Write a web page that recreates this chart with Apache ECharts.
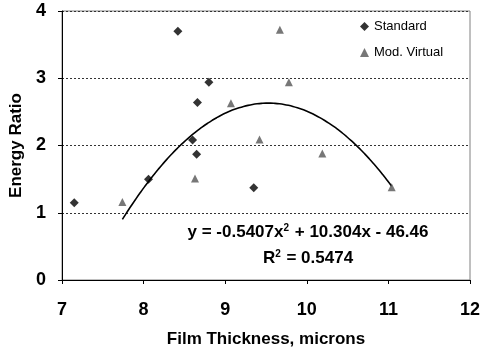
<!DOCTYPE html>
<html>
<head>
<meta charset="utf-8">
<script src="https://cdn.jsdelivr.net/npm/echarts@6/dist/echarts.min.js"></script>
<style>
  html, body { margin: 0; padding: 0; background: #fff; }
  #chart { width: 487px; height: 353px; }
</style>
</head>
<body>
<div id="chart"></div>
<script>
// Energy ratio vs. film thickness for two sample types
const standardX = [7.15, 8.06, 8.42, 8.80, 8.66, 8.60, 8.65, 9.35];
const standardY = [1.15, 1.50, 3.70, 2.94, 2.64, 2.08, 1.87, 1.37];

const modVirtualX = [7.74, 8.63, 9.07, 9.67, 9.78, 9.42, 10.19, 11.04];
const modVirtualY = [1.16, 1.51, 2.63, 3.72, 2.94, 2.09, 1.88, 1.38];

// Quadratic fit y = a x^2 + b x + c, as given in the annotation
const fitCoef = [-0.5407, 10.304, -46.46];
const fitR2 = 0.5474;

const xTicks = [7, 8, 9, 10, 11, 12];
const yTicks = [0, 1, 2, 3, 4];

function pairs(xs, ys) { return xs.map((x, i) => [x, ys[i]]); }

// trend curve spans the Mod. Virtual x range
const fitMin = Math.min(...modVirtualX), fitMax = Math.max(...modVirtualX);
const fitCurve = [];
for (let i = 0; i <= 60; i++) {
  const x = fitMin + (fitMax - fitMin) * i / 60;
  fitCurve.push([x, fitCoef[0] * x * x + fitCoef[1] * x + fitCoef[2]]);
}

const font = "'Liberation Sans', Arial, sans-serif";
const narrow = "'Liberation Sans Narrow', 'Arial Narrow', 'Liberation Sans', sans-serif";
const chart = echarts.init(document.getElementById('chart'));
chart.setOption({
  animation: false,
  backgroundColor: '#fff',
  grid: { left: 62, right: 17, top: 11, bottom: 70, show: true, borderColor: '#808080', borderWidth: 1 },
  xAxis: {
    type: 'value', min: xTicks[0], max: xTicks[xTicks.length - 1], interval: 1,
    name: 'Film Thickness, microns', nameLocation: 'middle', nameGap: 51,
    nameTextStyle: { fontFamily: font, fontWeight: 'bold', fontSize: 17, color: '#000' },
    axisLine: { lineStyle: { color: '#000', width: 1 } },
    axisTick: { show: true, length: 4, lineStyle: { color: '#000' } },
    axisLabel: { fontFamily: narrow, fontWeight: 'bold', fontSize: 18, color: '#000', margin: 21 },
    splitLine: { show: false }
  },
  yAxis: {
    type: 'value', min: yTicks[0], max: yTicks[yTicks.length - 1], interval: 1,
    name: 'Energy Ratio', nameLocation: 'middle', nameGap: 34,
    nameTextStyle: { fontFamily: font, fontWeight: 'bold', fontSize: 17, color: '#000' },
    axisLine: { show: true, lineStyle: { color: '#000', width: 1 } },
    axisTick: { show: true, length: 4, lineStyle: { color: '#000' } },
    axisLabel: { fontFamily: narrow, fontWeight: 'bold', fontSize: 18, color: '#000', margin: 16 },
    splitLine: { show: true, lineStyle: { color: '#333', type: [2, 2], width: 1 } }
  },
  legend: {
    orient: 'vertical', left: 355, top: 15, itemGap: 13,
    itemWidth: 9, itemHeight: 9,
    textStyle: { fontFamily: font, fontSize: 13, color: '#000' },
    data: [
      { name: 'Standard', icon: 'diamond' },
      { name: 'Mod. Virtual', icon: 'triangle' }
    ]
  },
  series: [
    {
      name: 'Trend', type: 'line', data: fitCurve, showSymbol: false, smooth: true,
      lineStyle: { color: '#000', width: 1.6 }, z: 2, silent: true
    },
    {
      name: 'Standard', type: 'scatter', data: pairs(standardX, standardY),
      symbol: 'diamond', symbolSize: 9, itemStyle: { color: '#000' }, z: 3
    },
    {
      name: 'Mod. Virtual', type: 'scatter', data: pairs(modVirtualX, modVirtualY),
      symbol: 'triangle', symbolSize: 8, itemStyle: { color: '#555' }, z: 3
    }
  ],
  graphic: [
    {
      type: 'text', x: 308, y: 232,
      style: {
        text: '{t|y = ' + fitCoef[0] + 'x}{s|2}{t| + ' + fitCoef[1] + 'x - ' + Math.abs(fitCoef[2]) + '}',
        align: 'center', verticalAlign: 'middle',
        rich: {
          t: { font: 'bold 17px ' + font, fill: '#000', verticalAlign: 'bottom' },
          s: { font: 'bold 10px ' + font, fill: '#000', verticalAlign: 'top', padding: [0, 1, 6, 0] }
        }
      }
    },
    {
      type: 'text', x: 308, y: 258,
      style: {
        text: '{t|R}{s|2}{t| = ' + fitR2 + '}',
        align: 'center', verticalAlign: 'middle',
        rich: {
          t: { font: 'bold 17px ' + font, fill: '#000', verticalAlign: 'bottom' },
          s: { font: 'bold 10px ' + font, fill: '#000', verticalAlign: 'top', padding: [0, 1, 6, 0] }
        }
      }
    }
  ]
});
</script>
</body>
</html>
